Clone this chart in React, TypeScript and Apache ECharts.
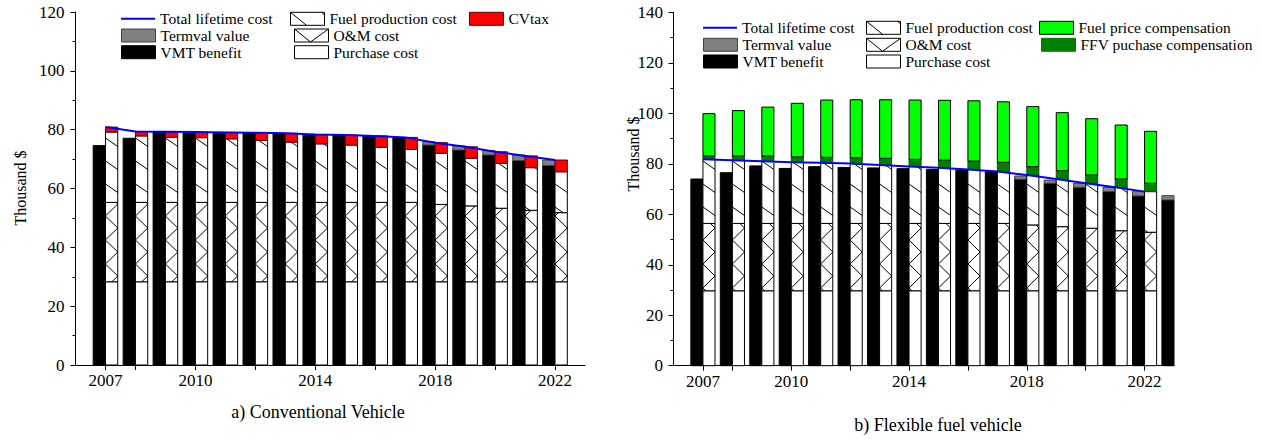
import React, { useEffect, useRef } from 'react';
import * as echarts from 'echarts';

// ---------- data (thousand $) ----------
const years = [2007, 2008, 2009, 2010, 2011, 2012, 2013, 2014, 2015, 2016, 2017, 2018, 2019, 2020, 2021, 2022];
const ffvVmtYears = [2007, 2008, 2009, 2010, 2011, 2012, 2013, 2014, 2015, 2016, 2017, 2018, 2019, 2020, 2021, 2022, 2023];

const xTickYears = [2007, 2008, 2010, 2012, 2014, 2016, 2018, 2020, 2022];
const xLabelYears = [2007, 2010, 2014, 2018, 2022];

// a) Conventional Vehicle
const cvPurchase = [28.3, 28.3, 28.3, 28.3, 28.3, 28.3, 28.3, 28.3, 28.3, 28.3, 28.3, 28.3, 28.3, 28.3, 28.3, 28.3];
const cvOM = [27.0, 27.0, 27.0, 27.0, 27.0, 27.0, 27.0, 27.0, 27.0, 27.0, 27.0, 26.3, 25.8, 25.0, 24.3, 23.5];
const cvFuelProd = [23.9, 22.6, 22.1, 22.0, 21.6, 21.1, 20.5, 19.9, 19.5, 18.7, 18.0, 17.4, 16.2, 15.3, 14.5, 13.9];
const cvTax = [1.7, 1.5, 1.9, 1.9, 2.2, 2.6, 3.0, 3.2, 3.4, 3.9, 4.1, 3.6, 3.9, 3.9, 4.0, 4.0];
const cvVMT = [74.6, 77.1, 79.3, 78.8, 79.1, 79.0, 78.8, 78.4, 78.2, 77.9, 77.4, 74.8, 73.1, 71.4, 69.5, 67.8];
const cvTermval = [0, 0, 0, 0, 0, 0, 0, 0, 0, 0, 0, 1.1, 1.4, 1.5, 1.9, 1.9];
const cvTotal = [80.9, 79.4, 79.3, 79.2, 79.1, 79.0, 78.8, 78.4, 78.2, 77.9, 77.4, 75.6, 74.2, 72.5, 71.1, 69.7];

// b) Flexible fuel vehicle
const ffvPurchase = [29.7, 29.7, 29.7, 29.7, 29.7, 29.7, 29.7, 29.7, 29.7, 29.7, 29.7, 29.7, 29.7, 29.7, 29.7, 29.7];
const ffvOM = [26.7, 26.7, 26.7, 26.7, 26.7, 26.7, 26.7, 26.7, 26.7, 26.7, 26.7, 26.1, 25.4, 24.8, 23.8, 23.2];
const ffvFuelProd = [25.4, 25.0, 24.6, 24.2, 24.0, 23.7, 23.2, 22.6, 22.1, 21.4, 20.6, 19.8, 18.9, 17.8, 17.2, 16.1];
const ffvPurchaseComp = [1.3, 1.7, 2.1, 2.2, 2.2, 2.3, 2.6, 2.8, 3.0, 3.3, 3.6, 3.3, 3.3, 3.3, 3.3, 3.3];
const ffvFuelPriceComp = [16.8, 18.0, 19.4, 21.2, 22.7, 23.0, 23.2, 23.5, 23.7, 23.9, 24.0, 23.8, 23.0, 22.3, 21.4, 20.6];
const ffvVMT = [74.0, 76.5, 79.2, 78.2, 78.9, 78.6, 78.4, 78.1, 77.8, 77.6, 76.9, 73.9, 72.3, 70.7, 69.0, 67.3, 65.7];
const ffvTermval = [0, 0, 0, 0, 0, 0, 0, 0, 0, 0, 0, 1.3, 1.3, 1.6, 1.7, 1.9, 1.7];
const ffvTotal = [81.8, 81.4, 81.0, 80.6, 80.4, 80.1, 79.6, 79.0, 78.5, 77.8, 77.0, 75.6, 74.0, 72.3, 70.7, 69.0];

// ---------- helpers ----------
const FONT = "'Liberation Serif', 'Times New Roman', serif";
const BAR_YEARS = 0.41;

function stackLayers(xs: number[], layers: number[][]) {
  const base = xs.map(() => 0);
  return layers.map((layer) =>
    xs.map((x, i) => {
      const b = base[i];
      base[i] = b + layer[i];
      return [x, b, base[i]];
    })
  );
}

function hatch(xl: number, xr: number, yTop: number, yBot: number) {
  const period = 23;
  const drop = 8.5;
  const phase = 0;
  const out: any[] = [];
  const k0 = Math.floor((yTop - drop - phase) / period) - 1;
  const k1 = Math.ceil((yBot - phase) / period) + 1;
  for (let k = k0; k <= k1; k++) {
    const y0 = phase + k * period;
    const ta = Math.max(0, (yTop - y0) / drop);
    const tb = Math.min(1, (yBot - y0) / drop);
    if (ta >= tb) continue;
    out.push({
      type: 'line',
      shape: { x1: xl + ta * (xr - xl), y1: y0 + ta * drop, x2: xl + tb * (xr - xl), y2: y0 + tb * drop },
      style: { stroke: '#000', lineWidth: 1, fill: null },
    });
  }
  return out;
}

function zigzag(xl: number, xr: number, yTop: number, yBot: number) {
  const half = 12;
  const phase = 0;
  const xAt = (y: number) => {
    const u = (y - phase) / half;
    const k = Math.floor(u);
    const f = u - k;
    const even = ((k % 2) + 2) % 2 === 0;
    const a = even ? xl : xr;
    const b = even ? xr : xl;
    return a + (b - a) * f;
  };
  const pts: number[][] = [[xAt(yTop), yTop]];
  for (let k = Math.floor((yTop - phase) / half) + 1; phase + k * half < yBot; k++) {
    const y = phase + k * half;
    pts.push([xAt(y), y]);
  }
  pts.push([xAt(yBot), yBot]);
  return [{ type: 'polyline', shape: { points: pts }, style: { stroke: '#000', lineWidth: 1, fill: null } }];
}

type Pattern = 'none' | 'fuel' | 'om';

function makeRenderer(side: 'L' | 'R', fill: string, stroke: string, pattern: Pattern) {
  return (_params: any, api: any) => {
    const x = api.value(0);
    const b = api.value(1);
    const t = api.value(2);
    if (!(t > b)) return null;
    const pb = api.coord([x, b]);
    const pt = api.coord([x, t]);
    const w = api.size([BAR_YEARS, 0])[0];
    const xl = side === 'L' ? pb[0] - w : pb[0];
    const xr = xl + w;
    const yTop = pt[1];
    const yBot = pb[1];
    const children: any[] = [
      { type: 'rect', shape: { x: xl, y: yTop, width: w, height: yBot - yTop }, style: { fill, stroke, lineWidth: 1 } },
    ];
    if (pattern === 'fuel') children.push(...hatch(xl, xr, yTop, yBot));
    if (pattern === 'om') children.push(...zigzag(xl, xr, yTop, yBot));
    return { type: 'group', children };
  };
}

function customSeries(name: string, data: number[][], axis: number, side: 'L' | 'R', fill: string, stroke: string, pattern: Pattern) {
  return {
    type: 'custom',
    name,
    xAxisIndex: axis,
    yAxisIndex: axis,
    data,
    encode: { x: 0, y: [1, 2] },
    renderItem: makeRenderer(side, fill, stroke, pattern),
    itemStyle: { color: fill, borderColor: stroke, borderWidth: 1 },
    silent: true,
    z: 2,
  };
}

function lineSeries(xs: number[], vals: number[], axis: number) {
  return {
    type: 'line',
    name: 'Total lifetime cost',
    xAxisIndex: axis,
    yAxisIndex: axis,
    data: xs.map((x, i) => [x, vals[i]]),
    symbol: 'none',
    lineStyle: { color: '#0000ff', width: 2 },
    itemStyle: { color: '#0000ff' },
    silent: true,
    z: 5,
  };
}

const ICON_FUEL = 'path://M0,0H34V13H0Z M0,0L16,13 M31,0L34,2.5';
const ICON_OM = 'path://M0,0H34V13H0Z M0,0L16,13L34,0';

function legendItem(name: string, left: number, centerY: number, icon?: string, itemStyle?: any, itemHeight = 13) {
  const d: any = { name };
  if (icon) d.icon = icon;
  if (itemStyle) d.itemStyle = itemStyle;
  return {
    show: true,
    selectedMode: false,
    orient: 'horizontal',
    left,
    top: centerY - 7.5,
    padding: 0,
    itemWidth: 34,
    itemHeight,
    textStyle: { fontFamily: FONT, fontSize: 15.5, color: '#000' },
    data: [d],
  };
}

const WHITE = { color: '#fff', borderColor: '#000', borderWidth: 1 };
const BLUE_LINE = { color: '#0000ff', borderWidth: 0 };

function xAxisDef(gridIndex: number) {
  return {
    type: 'value',
    gridIndex,
    min: 2006,
    max: 2023,
    axisLine: { show: true, onZero: false, lineStyle: { color: '#000', width: 1 } },
    axisTick: { show: true, length: 5, customValues: xTickYears, lineStyle: { color: '#000' } },
    axisLabel: {
      customValues: xLabelYears,
      formatter: (v: number) => String(v),
      color: '#000',
      fontFamily: FONT,
      fontSize: 17,
      margin: 7,
    },
    splitLine: { show: false },
  };
}

function yAxisDef(gridIndex: number, max: number, margin: number) {
  return {
    type: 'value',
    gridIndex,
    min: 0,
    max,
    interval: 20,
    axisLine: { show: true, onZero: false, lineStyle: { color: '#000', width: 1 } },
    axisTick: { show: true, length: 5, lineStyle: { color: '#000' } },
    minorTick: { show: true, splitNumber: 2, length: 3, lineStyle: { color: '#000' } },
    splitLine: { show: false },
    minorSplitLine: { show: false },
    axisLabel: { color: '#000', fontFamily: FONT, fontSize: 17, margin },
  };
}

function textEl(text: string, x: number, y: number, size: number, rotation = 0) {
  return {
    type: 'text',
    x,
    y,
    rotation,
    style: {
      text,
      fontFamily: FONT,
      fontSize: size,
      fill: '#000',
      align: 'center',
      verticalAlign: 'middle',
      textAlign: 'center',
      textVerticalAlign: 'middle',
    },
  };
}

export default function App() {
  const ref = useRef<HTMLDivElement>(null);

  useEffect(() => {
    if (!ref.current) return;
    const chart = echarts.init(ref.current, undefined, { renderer: 'svg' });

    const [cvPurD, cvOMD, cvFuelD, cvTaxD] = stackLayers(years, [cvPurchase, cvOM, cvFuelProd, cvTax]);
    const [cvVmtD, cvTermD] = stackLayers(years, [cvVMT, cvTermval]);
    const [fPurD, fOMD, fFuelD, fPCompD, fFPCompD] = stackLayers(years, [ffvPurchase, ffvOM, ffvFuelProd, ffvPurchaseComp, ffvFuelPriceComp]);
    const [fVmtD, fTermD] = stackLayers(ffvVmtYears, [ffvVMT, ffvTermval]);

    const option: any = {
      animation: false,
      backgroundColor: '#fff',
      grid: [
        { left: 75.5, top: 12.1, width: 509.5, height: 352.9, outerBoundsMode: 'none', containLabel: false },
        { left: 673.5, top: 12.5, width: 500.5, height: 353.2, outerBoundsMode: 'none', containLabel: false },
      ],
      xAxis: [xAxisDef(0), xAxisDef(1)],
      yAxis: [yAxisDef(0, 120, 11), yAxisDef(1, 140, 10.5)],
      legend: [
        legendItem('Total lifetime cost', 121, 18.3, 'rect', BLUE_LINE, 2),
        legendItem('Fuel production cost', 290, 18.3, ICON_FUEL, WHITE),
        legendItem('CVtax', 469, 18.3, 'rect', { color: '#ff0000', borderColor: '#600000', borderWidth: 1 }),
        legendItem('Termval value', 121, 35, 'rect', { color: '#808080', borderColor: '#404040', borderWidth: 1 }),
        legendItem('O&M cost', 294, 35, ICON_OM, WHITE),
        legendItem('VMT benefit', 121, 51.7, 'rect', { color: '#000', borderColor: '#000', borderWidth: 1 }),
        legendItem('Purchase cost', 294, 51.7, 'rect', WHITE),

        legendItem('Total lifetime cost', 703, 27.3, 'rect', BLUE_LINE, 2),
        legendItem('Fuel production cost', 866, 27.3, ICON_FUEL, WHITE),
        legendItem('Fuel price compensation', 1039, 27.3, 'rect', { color: '#00ff00', borderColor: '#000', borderWidth: 1 }),
        legendItem('Termval value', 703, 44.3, 'rect', { color: '#808080', borderColor: '#404040', borderWidth: 1 }),
        legendItem('O&M cost', 866, 44.3, ICON_OM, WHITE),
        legendItem('FFV puchase compensation', 1041, 44.3, 'rect', { color: '#008000', borderColor: '#008000', borderWidth: 1 }),
        legendItem('VMT benefit', 703, 61, 'rect', { color: '#000', borderColor: '#000', borderWidth: 1 }),
        legendItem('Purchase cost', 866, 61, 'rect', WHITE),
      ],
      series: [
        // a) Conventional Vehicle
        customSeries('VMT benefit', cvVmtD, 0, 'L', '#000', '#000', 'none'),
        customSeries('Termval value', cvTermD, 0, 'L', '#808080', '#404040', 'none'),
        customSeries('Purchase cost', cvPurD, 0, 'R', '#fff', '#000', 'none'),
        customSeries('O&M cost', cvOMD, 0, 'R', '#fff', '#000', 'om'),
        customSeries('Fuel production cost', cvFuelD, 0, 'R', '#fff', '#000', 'fuel'),
        customSeries('CVtax', cvTaxD, 0, 'R', '#ff0000', '#600000', 'none'),
        lineSeries(years, cvTotal, 0),
        // b) Flexible fuel vehicle
        customSeries('VMT benefit', fVmtD, 1, 'L', '#000', '#000', 'none'),
        customSeries('Termval value', fTermD, 1, 'L', '#808080', '#404040', 'none'),
        customSeries('Purchase cost', fPurD, 1, 'R', '#fff', '#000', 'none'),
        customSeries('O&M cost', fOMD, 1, 'R', '#fff', '#000', 'om'),
        customSeries('Fuel production cost', fFuelD, 1, 'R', '#fff', '#000', 'fuel'),
        customSeries('FFV puchase compensation', fPCompD, 1, 'R', '#008000', '#006000', 'none'),
        customSeries('Fuel price compensation', fFPCompD, 1, 'R', '#00ff00', '#000', 'none'),
        lineSeries(years, ffvTotal, 1),
      ],
      graphic: [
        textEl('Thousand $', 20, 188, 16, Math.PI / 2),
        textEl('Thousand $', 633, 154, 16, Math.PI / 2),
        textEl('a) Conventional Vehicle', 318, 412, 18),
        textEl('b) Flexible fuel vehicle', 938, 425, 18),
      ],
    };

    chart.setOption(option);
    return () => chart.dispose();
  }, []);

  return (
    <div
      ref={ref}
      style={{ position: 'absolute', left: 0, top: 0, width: 1262, height: 439, background: '#fff' }}
    />
  );
}
